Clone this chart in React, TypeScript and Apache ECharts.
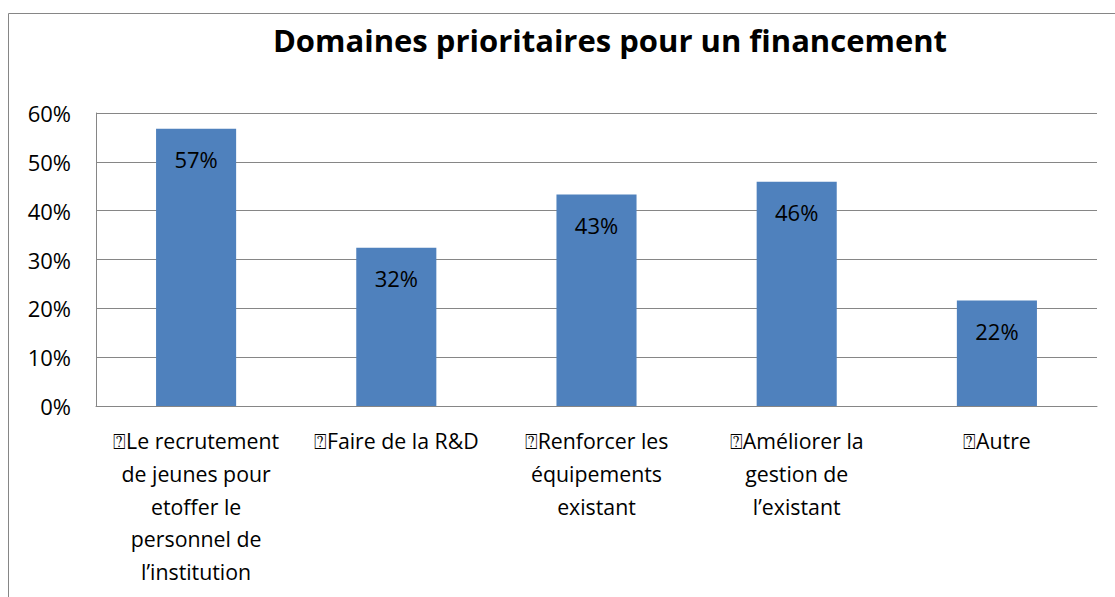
import React, { useEffect, useRef } from "react";
import * as echarts from "echarts";

const titleText = "Domaines prioritaires pour un financement";
const categories = [
  "⍰Le recrutement\nde jeunes pour\netoffer le\npersonnel de\nl’institution",
  "⍰Faire de la R&D",
  "⍰Renforcer les\néquipements\nexistant",
  "⍰Améliorer la\ngestion de\nl’existant",
  "⍰Autre",
];
const values = [56.8, 32.4, 43.3, 45.9, 21.6];
const yTicks = { min: 0, max: 60, interval: 10 };

const FONT = "Open Sans";

export default function App() {
  const ref = useRef<HTMLDivElement>(null);
  useEffect(() => {
    document.body.style.margin = "0";
    const chart = echarts.init(ref.current!, undefined, { renderer: "svg" });
    chart.setOption({
      animation: false,
      backgroundColor: "#ffffff",
      textStyle: { fontFamily: FONT },
      title: {
        text: titleText,
        left: 605,
        top: 19,
        textAlign: "center",
        textStyle: { fontFamily: FONT, fontWeight: "bold", fontSize: 31, color: "#000" },
      },
      graphic: [
        {
          type: "polyline",
          shape: { points: [[8.5, 700], [8.5, 13.5], [1200, 13.5]] },
          style: { stroke: "#868686", lineWidth: 1, fill: null },
          silent: true,
        },
      ],
      grid: { left: 96, right: 18, top: 113, bottom: 191, containLabel: false },
      xAxis: {
        type: "category",
        data: categories,
        axisLine: { show: true, lineStyle: { color: "#868686", width: 1 } },
        axisTick: { show: false },
        axisLabel: {
          interval: 0,
          color: "#000",
          fontFamily: FONT,
          fontSize: 21.3,
          lineHeight: 32.8,
          margin: 18,
          align: "center",
        },
      },
      yAxis: {
        type: "value",
        min: yTicks.min,
        max: yTicks.max,
        interval: yTicks.interval,
        axisLine: { show: true, lineStyle: { color: "#868686", width: 1 } },
        axisTick: { show: false },
        splitLine: { show: true, lineStyle: { color: "#868686", width: 1 } },
        axisLabel: {
          formatter: "{value}%",
          color: "#000",
          fontFamily: FONT,
          fontSize: 22,
          margin: 25,
        },
      },
      series: [
        {
          type: "bar",
          data: values,
          barWidth: "40%",
          itemStyle: { color: "#4F81BD" },
          label: {
            show: true,
            position: "insideTop",
            distance: 19,
            color: "#000",
            fontFamily: FONT,
            fontSize: 22,
            formatter: (p: any) => Math.round(p.value) + "%",
          },
        },
      ],
    });
    return () => chart.dispose();
  }, []);
  return <div ref={ref} style={{ width: 1115, height: 597 }} />;
}
